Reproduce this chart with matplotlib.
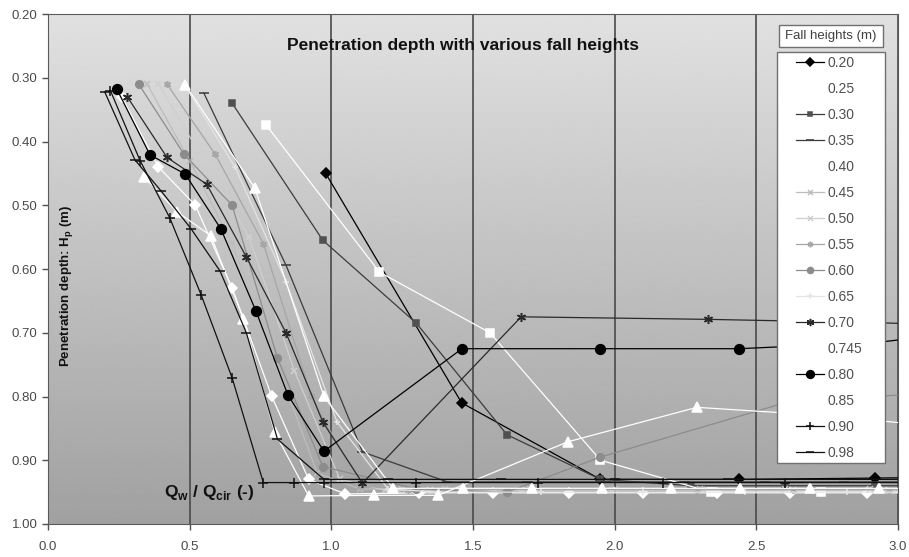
import numpy as np
import matplotlib
matplotlib.use("Agg")
import matplotlib.pyplot as plt
from matplotlib.patches import Rectangle

plt.rcParams['font.family'] = ['Liberation Sans', 'DejaVu Sans']

# fall heights (m) and the measured curves, x = Qw/Qcir, y = penetration depth Hp (m)
heights = ['0.20', '0.25', '0.30', '0.35', '0.40', '0.45', '0.50', '0.55',
           '0.60', '0.65', '0.70', '0.745', '0.80', '0.85', '0.90', '0.98']

x020 = [0.98, 1.46, 1.95, 2.44, 2.92, 3.41]
y020 = [0.45, 0.81, 0.93, 0.93, 0.928, 0.925]
x025 = [0.26, 0.39, 0.52, 0.65, 0.79, 0.92, 1.05, 1.31, 1.57, 1.84, 2.10, 2.36, 2.62, 2.89, 3.15]
y025 = [0.33, 0.44, 0.50, 0.63, 0.80, 0.93, 0.953, 0.951, 0.951, 0.951, 0.951, 0.951, 0.951, 0.951, 0.951]
x030 = [0.65, 0.97, 1.30, 1.62, 1.95, 2.27, 2.60, 2.92, 3.25]
y030 = [0.34, 0.555, 0.685, 0.86, 0.93, 0.94, 0.94, 0.94, 0.94]
x035 = [0.55, 0.84, 1.11, 1.41, 1.69, 1.97, 2.25, 2.53, 2.81, 3.09]
y035 = [0.324, 0.594, 0.887, 0.934, 0.934, 0.934, 0.934, 0.934, 0.934, 0.934]
x040 = [0.77, 1.17, 1.56, 1.95, 2.34, 2.73, 3.12]
y040 = [0.374, 0.605, 0.70, 0.90, 0.95, 0.95, 0.95]
x045 = [0.35, 0.50, 0.65, 0.80, 0.95, 1.10, 1.25, 1.40, 1.70, 2.00, 2.30, 2.60, 2.90, 3.20]
y045 = [0.31, 0.43, 0.56, 0.74, 0.92, 0.945, 0.945, 0.945, 0.945, 0.945, 0.945, 0.945, 0.945, 0.945]
x050 = [0.39, 0.55, 0.71, 0.87, 1.03, 1.19, 1.35, 1.67, 1.99, 2.31, 2.63, 2.95, 3.27]
y050 = [0.31, 0.43, 0.55, 0.76, 0.93, 0.947, 0.947, 0.947, 0.947, 0.947, 0.947, 0.947, 0.947]
x055 = [0.42, 0.59, 0.76, 0.93, 1.10, 1.27, 1.61, 1.95, 2.29, 2.63, 2.97, 3.31]
y055 = [0.31, 0.42, 0.56, 0.80, 0.94, 0.946, 0.946, 0.946, 0.946, 0.946, 0.946, 0.946]
x060 = [0.32, 0.48, 0.65, 0.81, 0.97, 1.30, 1.62, 1.95, 2.60, 3.25]
y060 = [0.31, 0.42, 0.50, 0.74, 0.91, 0.945, 0.95, 0.895, 0.81, 0.79]
x065 = [0.48, 0.66, 0.84, 1.02, 1.20, 1.38, 1.74, 2.10, 2.46, 2.82, 3.18]
y065 = [0.31, 0.44, 0.62, 0.84, 0.945, 0.95, 0.95, 0.95, 0.95, 0.95, 0.95]
x070 = [0.28, 0.42, 0.56, 0.70, 0.84, 0.97, 1.11, 1.67, 2.33, 2.90, 3.40]
y070 = [0.33, 0.425, 0.467, 0.581, 0.70, 0.84, 0.936, 0.675, 0.679, 0.684, 0.69]
x0745 = [0.484, 0.73, 0.974, 1.218, 1.464, 1.709, 1.954, 2.199, 2.444, 2.689, 2.934, 3.18]
y0745 = [0.311, 0.473, 0.80, 0.944, 0.944, 0.944, 0.944, 0.944, 0.944, 0.944, 0.944, 0.944]
x080 = [0.243, 0.36, 0.484, 0.61, 0.734, 0.847, 0.974, 1.461, 1.95, 2.44, 2.93, 3.41]
y080 = [0.318, 0.421, 0.451, 0.537, 0.666, 0.798, 0.886, 0.725, 0.725, 0.725, 0.715, 0.69]
x085 = [0.34, 0.455, 0.575, 0.69, 0.80, 0.92, 1.15, 1.377, 1.835, 2.29, 2.75, 3.21]
y085 = [0.456, 0.51, 0.548, 0.678, 0.856, 0.956, 0.955, 0.955, 0.871, 0.817, 0.83, 0.85]
x090 = [0.22, 0.325, 0.43, 0.54, 0.65, 0.76, 0.87, 0.975, 1.30, 1.73, 2.17, 2.60, 3.03]
y090 = [0.32, 0.43, 0.52, 0.64, 0.771, 0.935, 0.935, 0.935, 0.935, 0.935, 0.935, 0.935, 0.935]
x098 = [0.20, 0.307, 0.40, 0.505, 0.607, 0.70, 0.81, 0.974, 1.20, 1.60, 2.00, 2.40, 2.80, 3.20]
y098 = [0.322, 0.429, 0.478, 0.537, 0.603, 0.70, 0.867, 0.93, 0.93, 0.93, 0.93, 0.93, 0.93, 0.93]

xs = [x020, x025, x030, x035, x040, x045, x050, x055, x060, x065, x070, x0745, x080, x085, x090, x098]
ys = [y020, y025, y030, y035, y040, y045, y050, y055, y060, y065, y070, y0745, y080, y085, y090, y098]

# (line colour, marker, marker colour, marker size)
styles = [
    ('#000000', 'D', '#000000', 5.5),
    ('#ffffff', 'D', '#ffffff', 5.5),
    ('#3c3c3c', 's', '#505050', 4),
    ('#3a3a3a', '_', '#3a3a3a', 7),
    ('#ffffff', 's', '#ffffff', 6),
    ('#bdbdbd', 'x', '#bdbdbd', 4.5),
    ('#cfcfcf', 'x', '#cfcfcf', 4.5),
    ('#a6a6a6', (6, 2, 0), '#a6a6a6', 5),
    ('#8c8c8c', 'o', '#8c8c8c', 5.5),
    ('#e4e4e4', '+', '#e4e4e4', 5),
    ('#2a2a2a', (6, 2, 0), '#2a2a2a', 6.5),
    ('#ffffff', '^', '#ffffff', 6.5),
    ('#000000', 'o', '#000000', 7),
    ('#ffffff', '^', '#ffffff', 6.5),
    ('#111111', '+', '#111111', 7),
    ('#111111', '_', '#111111', 7),
]

fig = plt.figure(figsize=(9.09, 5.57), dpi=100)
W, H = 909, 557
ax = fig.add_axes([48 / W, 1 - 524 / H, (898 - 48) / W, (524 - 14) / H])

# grey gradient background of the plot area, light at the top
grad = np.linspace(0.88, 0.63, 256).reshape(-1, 1)
ax.imshow(grad, extent=[0, 3.0, 1.0, 0.2], aspect='auto', cmap='gray',
          vmin=0, vmax=1, zorder=0, interpolation='bilinear')

lines = []
for h, x, y, st in zip(heights, xs, ys, styles):
    lc, mk, mc, ms = st
    ln, = ax.plot(x, y, color=lc, lw=0.9, marker=mk, mfc=mc, mec=mc, ms=ms,
                  mew=1.1, label=h, zorder=3)
    lines.append(ln)

ax.set_xlim(0, 3.0)
ax.set_ylim(1.0, 0.2)
ax.set_xticks(np.arange(0, 3.01, 0.5))
ax.set_xticklabels(['%.1f' % v for v in np.arange(0, 3.01, 0.5)])
ax.set_yticks(np.arange(0.2, 1.001, 0.1))
ax.set_yticklabels(['%.2f' % v for v in np.arange(0.2, 1.001, 0.1)])
ax.grid(axis='x', color='#4a4a4a', lw=1.2)
ax.set_axisbelow(True)
ax.tick_params(axis='both', colors='#505050', labelcolor='#4a4a4a', labelsize=9.5,
               length=4, width=1)
ax.tick_params(axis='x', pad=8)
for sp in ax.spines.values():
    sp.set_color('#5a5a5a')

ax.text(0.488, 0.939, 'Penetration depth with various fall heights', transform=ax.transAxes,
        ha='center', va='center', fontsize=12.5, fontweight='bold', color='#111111')
ax.text(0.012, 0.467, 'Penetration depth: H$_\\mathregular{p}$ (m)', transform=ax.transAxes,
        rotation=90, ha='left', va='center', fontsize=9.5, fontweight='bold', color='#111111')
ax.text(0.137, 0.062, 'Q$_\\mathregular{w}$ / Q$_\\mathregular{cir}$ (-)', transform=ax.transAxes,
        ha='left', va='center', fontsize=12.5, fontweight='bold', color='#111111')

# legend: title box and entries box
fig.patches.append(Rectangle((779 / W, 1 - 47 / H), 104 / W, 22 / H, transform=fig.transFigure,
                             facecolor='white', edgecolor='#707070', lw=1, zorder=5))
fig.text(831 / W, 1 - 36 / H, 'Fall heights (m)', ha='center', va='center', fontsize=9.5,
         color='#404040', zorder=6)
fig.patches.append(Rectangle((777 / W, 1 - 463 / H), 108 / W, 411 / H, transform=fig.transFigure,
                             facecolor='white', edgecolor='#707070', lw=1, zorder=5))
leg = fig.legend(handles=lines, loc='upper left', bbox_to_anchor=(796 / W, 1 - 56 / H),
                 frameon=False, fontsize=10, labelspacing=0.865, handlelength=2.0,
                 handletextpad=0.25, borderpad=0, borderaxespad=0, labelcolor='#505050',
                 markerscale=0.8)
leg.set_zorder(7)

fig.savefig('out.png', dpi=100)
